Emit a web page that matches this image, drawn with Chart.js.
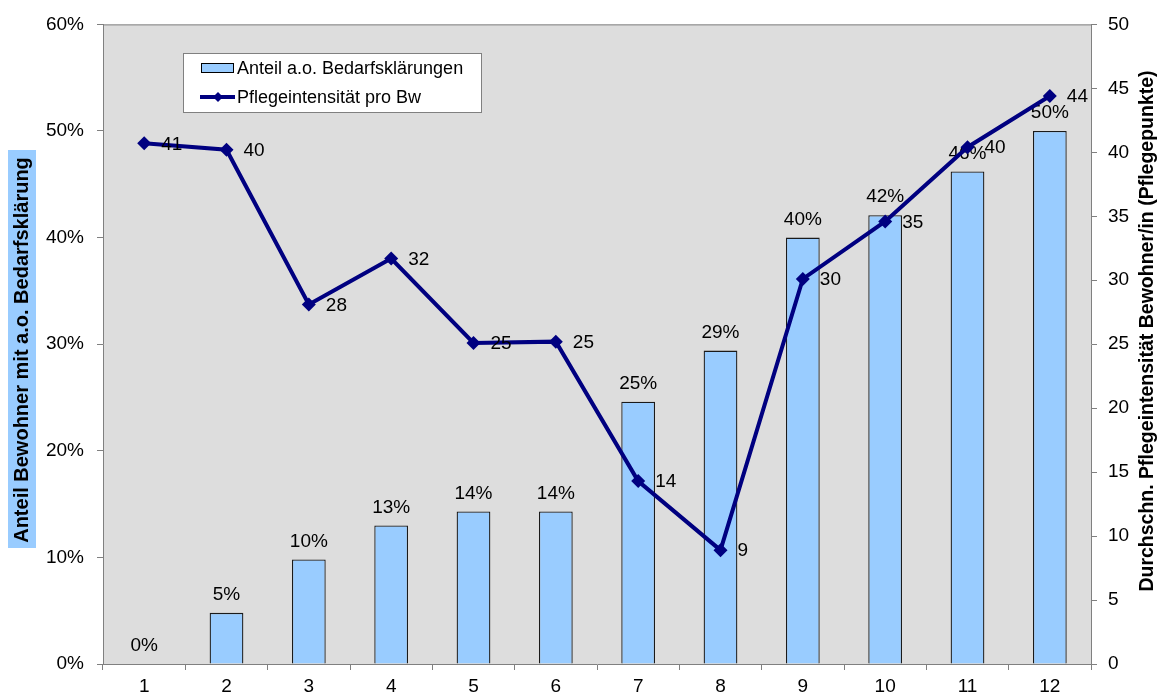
<!DOCTYPE html>
<html>
<head>
<meta charset="utf-8">
<script src="https://cdn.jsdelivr.net/npm/chart.js@4/dist/chart.umd.min.js"></script>
<style>
html,body{margin:0;padding:0;background:#fff;}
#wrap{width:1162px;height:695px;}
</style>
</head>
<body>
<div id="wrap"><canvas id="c" width="1162" height="695"></canvas></div>
<script>
const categories = ['1','2','3','4','5','6','7','8','9','10','11','12'];
const shareValues = [0, 4.8, 9.8, 13.0, 14.3, 14.3, 24.6, 29.4, 40.0, 42.1, 46.2, 50.0];
const intensityValues = [40.7, 40.2, 28.1, 31.7, 25.1, 25.2, 14.3, 8.9, 30.1, 34.6, 40.4, 44.4];
const leftTicks = [0, 10, 20, 30, 40, 50, 60];
const rightTicks = [0, 5, 10, 15, 20, 25, 30, 35, 40, 45, 50];
const seriesNames = ['Anteil a.o. Bedarfsklärungen', 'Pflegeintensität pro Bw'];
const leftTitle = 'Anteil Bewohner mit a.o. Bedarfsklärung';
const rightTitle = 'Durchschn. Pflegeintensität Bewohner/in (Pflegepunkte)';

const FONT = '"Liberation Sans", Arial, sans-serif';
const NAVY = '#000080';
const BARFILL = '#99CCFF';
const AXIS = '#808080';

const decor = {
  id: 'decor',
  beforeDraw(chart) {
    const {ctx, chartArea: a} = chart;
    ctx.save();
    ctx.fillStyle = '#DDDDDD';
    ctx.fillRect(a.left, a.top, a.right - a.left, a.bottom - a.top);
    ctx.strokeStyle = AXIS;
    ctx.lineWidth = 1;
    ctx.beginPath();
    ctx.moveTo(a.left, a.top + 0.5);
    ctx.lineTo(a.right, a.top + 0.5);
    ctx.stroke();
    // left title with background
    ctx.fillStyle = '#99CCFF';
    ctx.fillRect(8, 150, 28, 398);
    ctx.translate(22, 350);
    ctx.rotate(-Math.PI / 2);
    ctx.fillStyle = '#000';
    ctx.font = 'bold 20px ' + FONT;
    ctx.textAlign = 'center';
    ctx.textBaseline = 'middle';
    ctx.fillText(leftTitle, 0, 0);
    ctx.restore();
    ctx.save();
    ctx.translate(1148, 331);
    ctx.rotate(-Math.PI / 2);
    ctx.fillStyle = '#000';
    ctx.font = 'bold 19.5px ' + FONT;
    ctx.textAlign = 'center';
    ctx.textBaseline = 'middle';
    ctx.fillText(rightTitle, 0, 0);
    ctx.restore();
  },
  afterDatasetDraw(chart, args) {
    const {ctx} = chart;
    if (args.index === 0) {
      const meta = chart.getDatasetMeta(0);
      ctx.save();
      ctx.fillStyle = '#000';
      ctx.font = '19px ' + FONT;
      ctx.textAlign = 'center';
      ctx.textBaseline = 'middle';
      meta.data.forEach((el, i) => {
        ctx.fillText(Math.round(shareValues[i]) + '%', el.x, el.y - 18);
      });
      ctx.restore();
    }
  },
  afterDatasetsDraw(chart) {
    const {ctx} = chart;
    const meta = chart.getDatasetMeta(1);
    ctx.save();
    ctx.fillStyle = '#000';
    ctx.font = '19px ' + FONT;
    ctx.textAlign = 'left';
    ctx.textBaseline = 'middle';
    meta.data.forEach((el, i) => {
      ctx.fillText(String(Math.round(intensityValues[i])), el.x + 17, el.y + 1);
    });
    ctx.restore();
    // legend
    ctx.save();
    ctx.fillStyle = '#fff';
    ctx.fillRect(183, 53, 299, 60);
    ctx.strokeStyle = '#808080';
    ctx.lineWidth = 1;
    ctx.strokeRect(183.5, 53.5, 298, 59);
    ctx.fillStyle = BARFILL;
    ctx.fillRect(201, 63, 33, 10);
    ctx.strokeStyle = '#000';
    ctx.strokeRect(201.5, 63.5, 32, 9);
    ctx.strokeStyle = NAVY;
    ctx.lineWidth = 4;
    ctx.beginPath();
    ctx.moveTo(200, 97);
    ctx.lineTo(235, 97);
    ctx.stroke();
    ctx.fillStyle = NAVY;
    ctx.beginPath();
    ctx.moveTo(218, 92); ctx.lineTo(223, 97); ctx.lineTo(218, 102); ctx.lineTo(213, 97);
    ctx.closePath(); ctx.fill();
    ctx.fillStyle = '#000';
    ctx.font = '18px ' + FONT;
    ctx.textAlign = 'left';
    ctx.textBaseline = 'middle';
    ctx.fillText(seriesNames[0], 237, 69);
    ctx.fillText(seriesNames[1], 237, 98);
    ctx.restore();
  }
};

new Chart(document.getElementById('c'), {
  data: {
    labels: categories,
    datasets: [
      {
        type: 'bar',
        label: seriesNames[0],
        data: shareValues,
        yAxisID: 'y',
        backgroundColor: BARFILL,
        borderColor: '#1a1a1a',
        borderWidth: 1.3,
        barPercentage: 0.41,
        categoryPercentage: 1.0,
        order: 2
      },
      {
        type: 'line',
        label: seriesNames[1],
        data: intensityValues,
        yAxisID: 'y1',
        borderColor: NAVY,
        backgroundColor: NAVY,
        borderWidth: 4,
        pointStyle: 'rectRot',
        pointRadius: 7,
        pointBorderWidth: 0,
        pointBackgroundColor: NAVY,
        tension: 0,
        order: 1
      }
    ]
  },
  options: {
    responsive: false,
    animation: false,
    events: [],
    layout: {padding: {top: 22, left: 0, right: 0, bottom: 0}},
    plugins: {legend: {display: false}, tooltip: {enabled: false}, title: {display: false}},
    scales: {
      x: {
        type: 'category',
        offset: true,
        grid: {offset: true, drawOnChartArea: false, drawTicks: true, tickLength: 6, color: AXIS},
        border: {color: AXIS, width: 1},
        ticks: {color: '#000', font: {family: FONT, size: 19}, padding: 5, maxRotation: 0},
        afterFit(s) { s.height = 31; }
      },
      y: {
        position: 'left',
        min: 0, max: 60,
        afterBuildTicks(s) { s.ticks = leftTicks.map(v => ({value: v})); },
        grid: {drawOnChartArea: false, drawTicks: true, tickLength: 6, color: AXIS},
        border: {color: AXIS, width: 1},
        ticks: {color: '#000', font: {family: FONT, size: 19}, padding: 13, callback: v => v + '%'},
        afterFit(s) { s.width = 103; }
      },
      y1: {
        position: 'right',
        min: 0, max: 50,
        afterBuildTicks(s) { s.ticks = rightTicks.map(v => ({value: v})); },
        grid: {drawOnChartArea: false, drawTicks: true, tickLength: 6, color: AXIS},
        border: {color: AXIS, width: 1},
        ticks: {color: '#000', font: {family: FONT, size: 19}, padding: 11},
        afterFit(s) { s.width = 71; }
      }
    }
  },
  plugins: [decor]
});
</script>
</body>
</html>
